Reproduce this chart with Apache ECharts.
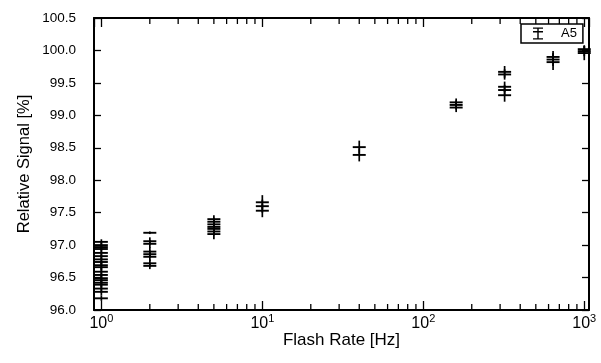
<!DOCTYPE html>
<html>
<head>
<meta charset="utf-8">
<script src="https://cdn.jsdelivr.net/npm/echarts@6/dist/echarts.min.js"></script>
<style>html,body{margin:0;padding:0;background:#fff}#c{width:601px;height:363px}</style>
</head>
<body>
<div id="c"></div>
<script>
// Flash rates (Hz) of each group
const rates = [1, 2, 5, 10, 40, 160, 320, 640, 1000];
// Relative signal [%] per flash rate
const sig_1Hz = [97.05, 97.00, 96.97, 96.94, 96.88, 96.83, 96.78, 96.74, 96.69, 96.66, 96.59, 96.54, 96.49, 96.46, 96.42, 96.39, 96.33, 96.28, 96.18];
const err_1Hz = [0.04, 0.06, 0.05, 0.06, 0.07, 0.06, 0.07, 0.06, 0.07, 0.06, 0.07, 0.06, 0.07, 0.06, 0.07, 0.06, 0.07, 0.06, 0.04];
const sig_2Hz = [97.19, 97.06, 97.02, 96.90, 96.86, 96.82, 96.72, 96.68];
const err_2Hz = [0.02, 0.06, 0.06, 0.07, 0.06, 0.07, 0.06, 0.05];
const sig_5Hz = [97.40, 97.36, 97.32, 97.28, 97.25, 97.21, 97.17];
const err_5Hz = [0.06, 0.06, 0.07, 0.06, 0.07, 0.06, 0.08];
const sig_10Hz = [97.66, 97.60, 97.53];
const err_10Hz = [0.11, 0.10, 0.10];
const sig_40Hz = [98.51, 98.39];
const err_40Hz = [0.10, 0.10];
const sig_160Hz = [99.20, 99.16, 99.12];
const err_160Hz = [0.06, 0.07, 0.07];
const sig_320Hz = [99.67, 99.63, 99.44, 99.39, 99.31];
const err_320Hz = [0.09, 0.08, 0.08, 0.08, 0.10];
const sig_640Hz = [99.90, 99.86, 99.82];
const err_640Hz = [0.09, 0.10, 0.12];
const sig_1000Hz = [100.02, 99.99, 99.96];
const err_1000Hz = [0.06, 0.08, 0.11];

const signals = [sig_1Hz, sig_2Hz, sig_5Hz, sig_10Hz, sig_40Hz, sig_160Hz, sig_320Hz, sig_640Hz, sig_1000Hz];
const errors = [err_1Hz, err_2Hz, err_5Hz, err_10Hz, err_40Hz, err_160Hz, err_320Hz, err_640Hz, err_1000Hz];

// Axis ticks
const yTicks = [96.0, 96.5, 97.0, 97.5, 98.0, 98.5, 99.0, 99.5, 100.0, 100.5];
const xMinorTicks = [2, 3, 4, 5, 6, 7, 8, 9, 20, 30, 40, 50, 60, 70, 80, 90, 200, 300, 400, 500, 600, 700, 800, 900];

const points = [];
rates.forEach((r, i) => signals[i].forEach((v, j) => points.push([r, v, errors[i][j]])));

const FONT = 'Liberation Sans';
const chart = echarts.init(document.getElementById('c'), null, {renderer: 'canvas'});

function errRender(params, api) {
  const x = api.value(0), y = api.value(1), e = api.value(2);
  const c = api.coord([x, y]);
  const t = api.coord([x, y + e]);
  const b = api.coord([x, y - e]);
  const hw = 6.5;
  return {type: 'group', children: [
    {type: 'line', shape: {x1: c[0], y1: t[1], x2: c[0], y2: b[1]}, style: {stroke: '#000', lineWidth: 1.7}},
    {type: 'line', shape: {x1: c[0] - hw, y1: c[1], x2: c[0] + hw, y2: c[1]}, style: {stroke: '#000', lineWidth: 1.9}}
  ]};
}

function minorRender(params, api) {
  const cs = params.coordSys;
  const cx = api.coord([api.value(0), 96])[0];
  const L = 6;
  return {type: 'group', children: [
    {type: 'line', shape: {x1: cx, y1: cs.y + cs.height, x2: cx, y2: cs.y + cs.height - L}, style: {stroke: '#000', lineWidth: 1.3}},
    {type: 'line', shape: {x1: cx, y1: cs.y, x2: cx, y2: cs.y + L}, style: {stroke: '#000', lineWidth: 1.3}}
  ]};
}

const xAxisBase = {
  type: 'log', logBase: 10, min: 0.9, max: 1070,
  axisLine: {show: true, lineStyle: {color: '#000', width: 2}},
  axisTick: {show: true, inside: true, length: 9, lineStyle: {color: '#000', width: 1.3}},
  splitLine: {show: false}
};
const yAxisBase = {
  type: 'value', min: 96, max: 100.5, interval: 0.5,
  axisLine: {show: true, lineStyle: {color: '#000', width: 2}},
  axisTick: {show: true, inside: true, length: 7, lineStyle: {color: '#000', width: 1.3}},
  splitLine: {show: false}
};

chart.setOption({
  animation: false,
  backgroundColor: '#fff',
  grid: {left: 94, right: 12, top: 18, bottom: 53, containLabel: false},
  legend: {
    data: [{name: 'A5', icon: 'path://M0,0H10V1.3H0Z M0,3.6H10V4.9H0Z M0,10.7H10V12H0Z M4.3,0H5.7V12H4.3Z'}],
    left: 521, top: 24,
    itemWidth: 10, itemHeight: 12,
    padding: [3, 6, 3, 12],
    borderColor: '#000', borderWidth: 1.5, backgroundColor: '#fff',
    textStyle: {fontFamily: FONT, fontSize: 13, color: '#000', padding: [0, 0, 0, 13]},
    selectedMode: false
  },
  xAxis: [
    Object.assign({}, xAxisBase, {
      position: 'bottom',
      name: 'Flash Rate [Hz]', nameLocation: 'middle', nameGap: 22, nameMoveOverlap: false,
      nameTextStyle: {fontFamily: FONT, fontSize: 17, color: '#000'},
      axisLabel: {
        show: true, margin: 4, showMinLabel: false, showMaxLabel: false,
        formatter: function (v) {
          const ex = Math.round(Math.log10(v));
          if (Math.abs(Math.pow(10, ex) - v) > 1e-6 * v) return '';
          return '{b|10}{s|' + ex + '}';
        },
        rich: {
          b: {fontFamily: FONT, fontSize: 16, color: '#000', lineHeight: 18, verticalAlign: 'bottom'},
          s: {fontFamily: FONT, fontSize: 11, color: '#000', lineHeight: 18, verticalAlign: 'bottom', padding: [0, 0, 8, 0]}
        }
      }
    }),
    Object.assign({}, xAxisBase, {position: 'top', axisLabel: {show: false}})
  ],
  yAxis: [
    Object.assign({}, yAxisBase, {
      position: 'left',
      name: 'Relative Signal [%]', nameLocation: 'middle', nameGap: 61, nameRotate: 90, nameMoveOverlap: false,
      nameTextStyle: {fontFamily: FONT, fontSize: 16.5, color: '#000'},
      axisLabel: {show: true, margin: 18, fontFamily: FONT, fontSize: 13.5, color: '#000',
        formatter: v => (yTicks.indexOf(Math.round(v * 10) / 10) >= 0 ? v.toFixed(1) : '')}
    }),
    Object.assign({}, yAxisBase, {position: 'right', axisLabel: {show: false}})
  ],
  series: [
    {
      name: 'A5', type: 'custom', xAxisIndex: 0, yAxisIndex: 0,
      renderItem: errRender, data: points, encode: {x: 0, y: 1},
      itemStyle: {color: '#000'}, clip: false, z: 3
    },
    {
      name: 'minorTicks', type: 'custom', xAxisIndex: 0, yAxisIndex: 0,
      renderItem: minorRender, data: xMinorTicks.map(v => [v, 96]), encode: {x: 0, y: 1},
      silent: true, z: 2
    }
  ]
});
</script>
</body>
</html>
